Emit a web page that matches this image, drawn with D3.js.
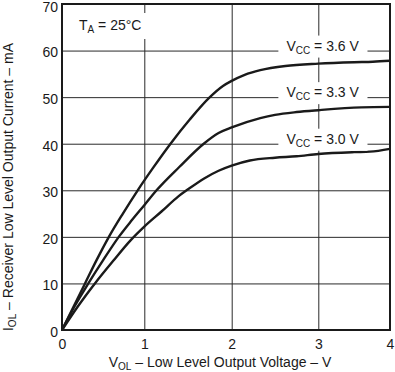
<!DOCTYPE html>
<html>
<head>
<meta charset="utf-8">
<script src="https://cdn.jsdelivr.net/npm/d3@7"></script>
<style>
  body { margin: 0; background: #fff; }
  svg text { font-family: "Liberation Sans", Arial, sans-serif; fill: #1a1a1a; }
</style>
</head>
<body>
<div id="chart"></div>
<script>
// curves: [VOL (V), IOL (mA)]
const vcc36 = [[0,0],[0.14,5],[0.28,10],[0.42,15],[0.57,20],[0.74,25],[0.92,30],[1.1,34.8],[1.3,40],
  [1.52,45.2],[1.75,50],[1.9,52.4],[2,53.5],[2.15,54.8],[2.33,55.8],[2.62,56.7],
  [3.0,57.2],[3.5,57.5],[3.76,57.6],[4,57.8]];
const vcc33 = [[0,0],[0.15,5],[0.32,10],[0.5,15],[0.69,20],[0.85,23.6],[1,26.8],[1.14,30],[1.4,35],
  [1.68,40],[1.85,42.3],[2.0,43.5],[2.33,45.5],[2.5,46.2],[2.75,46.8],[3,47.2],[3.6,47.8],[4,47.9]];
const vcc30 = [[0,0],[0.19,5],[0.4,10],[0.62,14.8],[0.83,19.2],[1,22.2],[1.2,25.5],[1.39,28.7],[1.5,30.2],
  [1.69,32.6],[1.85,34.2],[2,35.3],[2.21,36.4],[2.5,37],[2.75,37.3],[3,37.8],[3.5,38.2],[3.72,38.3],[4,38.9]];

const curves = [
  { name: "3.6 V", values: vcc36, labelX: 3.06, labelY: 60 },
  { name: "3.3 V", values: vcc33, labelX: 3.06, labelY: 50 },
  { name: "3.0 V", values: vcc30, labelX: 3.06, labelY: 40 }
];

const xTicks = [0, 1, 2, 3, 4];
const yTicks = [0, 10, 20, 30, 40, 50, 60, 70];

const svgWidth = 395, svgHeight = 372;
const margin = { top: 4, right: 5, bottom: 42, left: 62 };
const width = svgWidth - margin.left - margin.right;
const height = svgHeight - margin.top - margin.bottom;

const svg = d3.select("#chart").append("svg")
  .attr("width", svgWidth)
  .attr("height", svgHeight);

const g = svg.append("g")
  .attr("transform", `translate(${margin.left},${margin.top})`);

// the original grid is not evenly spaced along x
const x = d3.scaleLinear()
  .domain(xTicks)
  .range([0, 82.3, 169.7, 256.3, width]);

const y = d3.scaleLinear()
  .domain([0, 70])
  .range([height, 0]);

// grid
g.append("g")
  .call(d3.axisBottom(x).tickValues(xTicks.slice(1, -1)).tickSize(height).tickFormat(""))
  .call(s => s.select(".domain").remove())
  .selectAll("line").attr("stroke", "#2a2a2a").attr("stroke-width", 1);

g.append("g")
  .call(d3.axisLeft(y).tickValues(yTicks.slice(1, -1)).tickSize(-width).tickFormat(""))
  .call(s => s.select(".domain").remove())
  .selectAll("line").attr("stroke", "#2a2a2a").attr("stroke-width", 1);

// tick labels
const xAxis = g.append("g")
  .attr("transform", `translate(0,${height})`)
  .call(d3.axisBottom(x).tickValues(xTicks).tickSize(0).tickPadding(7).tickFormat(d3.format("d")));
xAxis.select(".domain").remove();
xAxis.selectAll("text").attr("font-size", 14).attr("dy", "0.85em")
  .style("font-family", "Liberation Sans, Arial, sans-serif").attr("fill", "#1a1a1a");

const yAxis = g.append("g")
  .call(d3.axisLeft(y).tickValues(yTicks).tickSize(0).tickPadding(4).tickFormat(d3.format("d")));
yAxis.select(".domain").remove();
yAxis.selectAll("text").attr("font-size", 14)
  .attr("dy", d => d === 70 ? "0.52em" : "0.45em")
  .style("font-family", "Liberation Sans, Arial, sans-serif").attr("fill", "#1a1a1a");

// white boxes behind labels hide the grid
function boxed(textSel, padX, padY) {
  const b = textSel.node().getBBox();
  g.insert("rect", () => textSel.node())
    .attr("x", b.x - padX).attr("y", b.y - padY)
    .attr("width", b.width + 2 * padX).attr("height", b.height + 2 * padY)
    .attr("fill", "#fff");
}

const ta = g.append("text")
  .attr("x", 17).attr("y", 26)
  .attr("font-size", 14);
ta.append("tspan").text("T");
ta.append("tspan").attr("font-size", 10).attr("dy", 3).text("A");
ta.append("tspan").attr("dy", -3).text(" = 25°C");
boxed(ta, 8, 4);

// curves
const line = d3.line()
  .x(d => x(d[0]))
  .y(d => y(d[1]))
  .curve(d3.curveMonotoneX);

g.selectAll(".curve")
  .data(curves)
  .enter().append("path")
  .attr("class", "curve")
  .attr("d", d => line(d.values))
  .attr("fill", "none")
  .attr("stroke", "#1a1a1a")
  .attr("stroke-width", 2.4)
  .attr("stroke-linejoin", "round");

curves.forEach(c => {
  const t = g.append("text")
    .attr("x", x(c.labelX)).attr("y", y(c.labelY))
    .attr("text-anchor", "middle")
    .attr("font-size", 14);
  t.append("tspan").text("V");
  t.append("tspan").attr("font-size", 10).attr("dy", 3).text("CC");
  t.append("tspan").attr("dy", -3).text(" = " + c.name);
  boxed(t, 8, 2);
});

// frame
g.append("rect")
  .attr("width", width).attr("height", height)
  .attr("fill", "none").attr("stroke", "#1a1a1a").attr("stroke-width", 2);

// axis titles
const xt = svg.append("text")
  .attr("x", margin.left + width / 2 - 6).attr("y", 367)
  .attr("text-anchor", "middle").attr("font-size", 14);
xt.append("tspan").text("V");
xt.append("tspan").attr("font-size", 10).attr("dy", 3).text("OL");
xt.append("tspan").attr("dy", -3).text(" \u2013 Low Level Output Voltage \u2013 V");

const yt = svg.append("text")
  .attr("transform", "translate(13,187) rotate(-90)")
  .attr("text-anchor", "middle").attr("font-size", 14);
yt.append("tspan").text("I");
yt.append("tspan").attr("font-size", 10).attr("dy", 3).text("OL");
yt.append("tspan").attr("dy", -3).text(" \u2013 Receiver Low Level Output Current \u2013 mA");
</script>
</body>
</html>
